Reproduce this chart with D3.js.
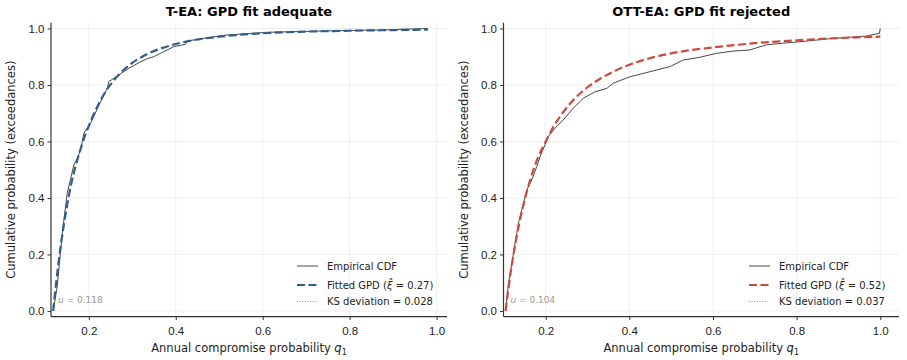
<!DOCTYPE html>
<html>
<head>
<meta charset="utf-8">
<title>GPD fit</title>
<script src="https://cdnjs.cloudflare.com/ajax/libs/d3/7.8.5/d3.min.js"></script>
<style>
	body { margin: 0; background: #fff; }
	svg { font-family: "DejaVu Sans", sans-serif; }
	.grid line { stroke: #ebebeb; stroke-width: 0.8; }
	.axis path, .axis line { stroke: #333; }
	.axis text { fill: #222; font-size: 11.5px; }
</style>
</head>
<body>
<div id="chart"></div>
<script>

// ---- data ----
var yTicks = [0.0, 0.2, 0.4, 0.6, 0.8, 1.0];
var xTicks = [0.2, 0.4, 0.6, 0.8, 1.0];

// T-EA panel
var teaEmpX = [0.118, 0.1273, 0.1389, 0.1503, 0.1655, 0.172, 0.181, 0.1886, 0.204, 0.227, 0.243, 0.246, 0.269, 0.292, 0.319, 0.334, 0.349, 0.365, 0.396, 0.422, 0.426, 0.45, 0.518, 0.61, 0.763, 0.88, 0.98];
var teaEmpY = [0.0, 0.086, 0.275, 0.417, 0.517, 0.535, 0.570, 0.629, 0.664, 0.741, 0.79, 0.812, 0.835, 0.859, 0.882, 0.893, 0.900, 0.912, 0.936, 0.944, 0.955, 0.962, 0.977, 0.9865, 0.992, 0.995, 1.0];
var teaFitX = [0.118, 0.125, 0.13, 0.14, 0.15, 0.16, 0.17, 0.18, 0.19, 0.2, 0.22, 0.24, 0.26, 0.28, 0.3, 0.33, 0.36, 0.4, 0.45, 0.5, 0.55, 0.6, 0.7, 0.8, 0.9, 0.98];
var teaFitY = [0.0, 0.102, 0.167, 0.280, 0.374, 0.453, 0.515, 0.568, 0.615, 0.655, 0.725, 0.780, 0.821, 0.853, 0.878, 0.906, 0.926, 0.945, 0.961, 0.971, 0.978, 0.983, 0.989, 0.992, 0.9945, 0.996];

// OTT-EA panel
var ottEmpX = [0.104, 0.111, 0.1227, 0.1346, 0.1427, 0.1546, 0.1666, 0.1785, 0.1864, 0.1983, 0.2062, 0.222, 0.242, 0.262, 0.290, 0.318, 0.346, 0.361, 0.401, 0.449, 0.497, 0.528, 0.568, 0.608, 0.648, 0.688, 0.727, 0.767, 0.807, 0.886, 0.966, 0.998, 1.0];
var ottEmpY = [0.0, 0.098, 0.204, 0.310, 0.358, 0.428, 0.464, 0.511, 0.546, 0.588, 0.617, 0.647, 0.676, 0.712, 0.753, 0.776, 0.788, 0.806, 0.829, 0.847, 0.865, 0.888, 0.898, 0.912, 0.920, 0.924, 0.942, 0.948, 0.953, 0.965, 0.973, 0.983, 1.0];
var ottFitX = [0.104, 0.11, 0.12, 0.13, 0.14, 0.15, 0.16, 0.17, 0.18, 0.2, 0.22, 0.24, 0.26, 0.28, 0.3, 0.33, 0.36, 0.4, 0.45, 0.5, 0.55, 0.6, 0.7, 0.8, 0.9, 1.0];
var ottFitY = [0.0, 0.071, 0.173, 0.259, 0.333, 0.395, 0.450, 0.497, 0.538, 0.600, 0.656, 0.700, 0.737, 0.767, 0.792, 0.822, 0.846, 0.872, 0.895, 0.912, 0.924, 0.933, 0.948, 0.958, 0.966, 0.971];

var panels = [
	{title: "T-EA: GPD fit adequate", u: "0.118", xi: "0.27", ks: "0.028", color: "#2f5d8c",
	 empX: teaEmpX, empY: teaEmpY, fitX: teaFitX, fitY: teaFitY,
	 left: 51, right: 447, xmin: 0.113, xmax: 1.024},
	{title: "OTT-EA: GPD fit rejected", u: "0.104", xi: "0.52", ks: "0.037", color: "#cc4a3e",
	 empX: ottEmpX, empY: ottEmpY, fitX: ottFitX, fitY: ottFitY,
	 left: 503.5, right: 899, xmin: 0.099, xmax: 1.0448}
];

var width = 907, height = 360;
var plotTop = 22.85, plotBottom = 316.6;

var svg = d3.select("#chart").append("svg")
	.attr("width", width)
	.attr("height", height);

var y = d3.scaleLinear().domain([-0.02, 1.02]).range([plotBottom, plotTop]);

panels.forEach(function(p) {
	var x = d3.scaleLinear().domain([p.xmin, p.xmax]).range([p.left, p.right]);
	var g = svg.append("g");

	// grid
	var grid = g.append("g").attr("class", "grid");
	grid.selectAll("line.gx").data(xTicks).enter().append("line")
		.attr("x1", function(d) { return x(d); }).attr("x2", function(d) { return x(d); })
		.attr("y1", plotTop).attr("y2", plotBottom);
	grid.selectAll("line.gy").data(yTicks).enter().append("line")
		.attr("x1", p.left).attr("x2", p.right)
		.attr("y1", function(d) { return y(d); }).attr("y2", function(d) { return y(d); });

	// curves
	var empPts = p.empX.map(function(v, i) { return [v, p.empY[i]]; });
	var fitPts = p.fitX.map(function(v, i) { return [v, p.fitY[i]]; });

	var lineLin = d3.line().x(function(d) { return x(d[0]); }).y(function(d) { return y(d[1]); });
	var lineSmooth = d3.line().curve(d3.curveMonotoneX)
		.x(function(d) { return x(d[0]); }).y(function(d) { return y(d[1]); });

	g.append("path").datum(empPts)
		.attr("d", lineLin)
		.attr("fill", "none")
		.attr("stroke", "#333")
		.attr("stroke-width", 0.9);

	g.append("path").datum(fitPts)
		.attr("d", lineSmooth)
		.attr("fill", "none")
		.attr("stroke", p.color)
		.attr("stroke-width", 2.2)
		.attr("stroke-dasharray", "8,3.5");

	// axes
	var xAxis = d3.axisBottom(x).tickValues(xTicks).tickFormat(d3.format(".1f")).tickSize(3.5).tickSizeOuter(0);
	var yAxis = d3.axisLeft(y).tickValues(yTicks).tickFormat(d3.format(".1f")).tickSize(3.5).tickSizeOuter(0);

	var ax = g.append("g").attr("class", "axis")
		.attr("transform", "translate(0," + plotBottom + ")")
		.call(xAxis);
	ax.select(".domain").attr("d", "M" + p.left + ",0H" + p.right).attr("stroke-width", 1.2);
	ax.selectAll("text").attr("dy", "1.05em");

	var ay = g.append("g").attr("class", "axis")
		.attr("transform", "translate(" + p.left + ",0)")
		.call(yAxis);
	ay.select(".domain").attr("d", "M0," + plotTop + "V" + plotBottom).attr("stroke-width", 1.2);

	// title
	var cx = (p.left + p.right) / 2;
	g.append("text")
		.attr("x", cx).attr("y", 16)
		.attr("text-anchor", "middle")
		.style("font-size", "13px").style("font-weight", "bold")
		.text(p.title);

	// axis labels
	var xl = g.append("text")
		.attr("x", cx).attr("y", 352)
		.attr("text-anchor", "middle")
		.style("font-size", "11.5px")
		.attr("fill", "#222");
	xl.append("tspan").text("Annual compromise probability ");
	xl.append("tspan").style("font-style", "italic").text("q");
	xl.append("tspan").attr("dy", 3).style("font-size", "8px").text("1");

	g.append("text")
		.attr("transform", "translate(" + (p.left - 36) + "," + ((plotTop + plotBottom) / 2) + ")rotate(-90)")
		.attr("text-anchor", "middle")
		.style("font-size", "11.5px")
		.attr("fill", "#222")
		.text("Cumulative probability (exceedances)");

	// threshold note
	var un = g.append("text")
		.attr("x", p.left + 7).attr("y", 303)
		.style("font-size", "9px")
		.attr("fill", "#999");
	un.append("tspan").style("font-style", "italic").text("u");
	un.append("tspan").text(" = " + p.u);

	// legend
	var lx = p.right - 150, rows = [266, 285, 301.5];
	var lg = g.append("g");
	lg.append("line").attr("x1", lx).attr("x2", lx + 21).attr("y1", rows[0]).attr("y2", rows[0])
		.attr("stroke", "#333").attr("stroke-width", 0.9);
	lg.append("line").attr("x1", lx).attr("x2", lx + 21).attr("y1", rows[1]).attr("y2", rows[1])
		.attr("stroke", p.color).attr("stroke-width", 2.2).attr("stroke-dasharray", "8,3.5");
	lg.append("line").attr("x1", lx).attr("x2", lx + 21).attr("y1", rows[2]).attr("y2", rows[2])
		.attr("stroke", "#999").attr("stroke-width", 1).attr("stroke-dasharray", "1,1.6");

	lg.append("text").attr("x", lx + 30).attr("y", rows[0] + 3.5).style("font-size", "10px").attr("fill", "#222")
		.text("Empirical CDF");
	var t2 = lg.append("text").attr("x", lx + 30).attr("y", rows[1] + 3.5).style("font-size", "10px").attr("fill", "#222");
	t2.append("tspan").text("Fitted GPD (");
	t2.append("tspan").style("font-style", "italic").text("\u03BE\u0302");
	t2.append("tspan").text(" = " + p.xi + ")");
	lg.append("text").attr("x", lx + 30).attr("y", rows[2] + 3.5).style("font-size", "10px").attr("fill", "#222")
		.text("KS deviation = " + p.ks);
});

</script>
</body>
</html>
